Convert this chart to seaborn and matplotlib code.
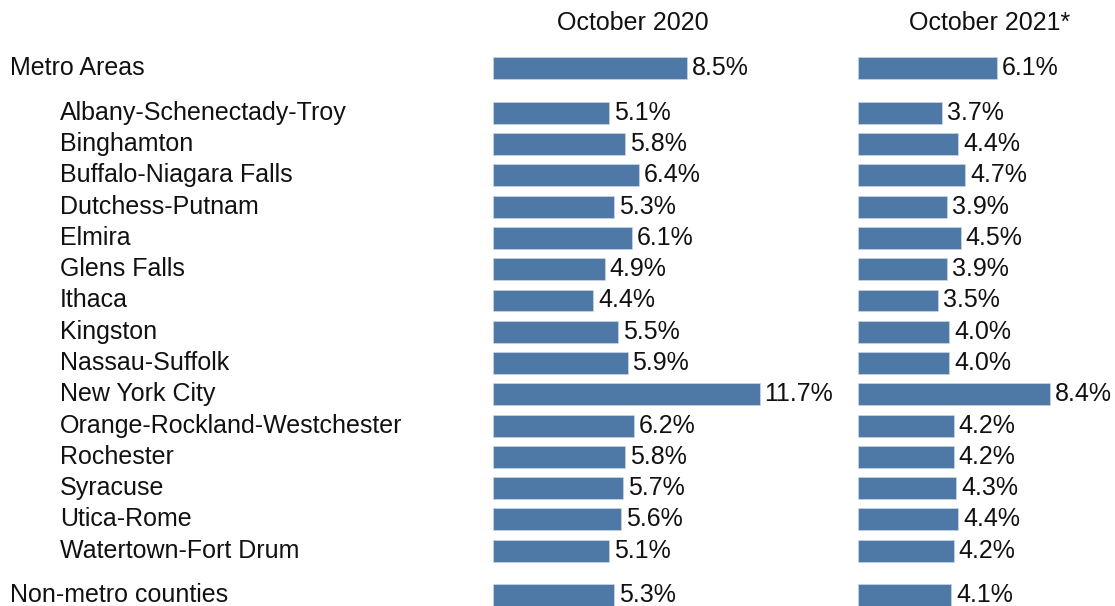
import matplotlib
matplotlib.use("Agg")
import matplotlib.pyplot as plt
import matplotlib.transforms as mtransforms
import seaborn as sns
import pandas as pd
import numpy as np

categories = ["Metro Areas", "Albany-Schenectady-Troy", "Binghamton", "Buffalo-Niagara Falls",
              "Dutchess-Putnam", "Elmira", "Glens Falls", "Ithaca", "Kingston", "Nassau-Suffolk",
              "New York City", "Orange-Rockland-Westchester", "Rochester", "Syracuse",
              "Utica-Rome", "Watertown-Fort Drum", "Non-metro counties"]
oct2020 = [8.5, 5.1, 5.8, 6.4, 5.3, 6.1, 4.9, 4.4, 5.5, 5.9, 11.7, 6.2, 5.8, 5.7, 5.6, 5.1, 5.3]
oct2021 = [6.1, 3.7, 4.4, 4.7, 3.9, 4.5, 3.9, 3.5, 4.0, 4.0, 8.4, 4.2, 4.2, 4.3, 4.4, 4.2, 4.1]
titles = ["October 2020", "October 2021*"]

# row positions: sub-areas evenly spaced, extra gap around totals
pos = [-1.44] + list(range(15)) + [15.41]
indent = [False] + [True] * 15 + [False]

sns.set_theme(style="white")
plt.rcParams['font.family'] = ['Liberation Sans', 'DejaVu Sans']

W, H = 1115, 606
fig = plt.figure(figsize=(W / 100, H / 100), dpi=100)
color = "#4e79a7"
pxu = 22.8  # pixels per percent
ylim = (15.77, -3.61)
fs = 18

df = pd.DataFrame({"cat": categories, "pos": pos, "v2020": oct2020, "v2021": oct2021})

panels = [("v2020", 493, 14, titles[0], 633), ("v2021", 858, 10, titles[1], 990)]
axes = []
for col, left, xmax, title, tx in panels:
    ax = fig.add_axes([left / W, 0, xmax * pxu / W, 1])
    sns.barplot(data=df, x=col, y="pos", orient="y", native_scale=True, color=color,
                width=0.7, saturation=1, ax=ax, edgecolor="#c9d6e6", linewidth=0.5)
    ax.set_xlim(0, xmax)
    ax.set_ylim(*ylim)
    ax.axis("off")
    for c in ax.containers:
        ax.bar_label(c, fmt="%.1f%%", padding=3.5, fontsize=fs, color="#111111", clip_on=False)
    fig.text(tx / W, 1 - 23 / H, title, ha="center", va="center", fontsize=fs, color="#111111")
    axes.append(ax)

trans = mtransforms.blended_transform_factory(fig.transFigure, axes[0].transData)
for name, p, ind in zip(categories, pos, indent):
    x = (60 if ind else 10) / W
    axes[0].text(x, p, name, transform=trans, ha="left", va="center", fontsize=fs,
                 color="#111111", clip_on=False)

fig.savefig("out.png", dpi=100)
